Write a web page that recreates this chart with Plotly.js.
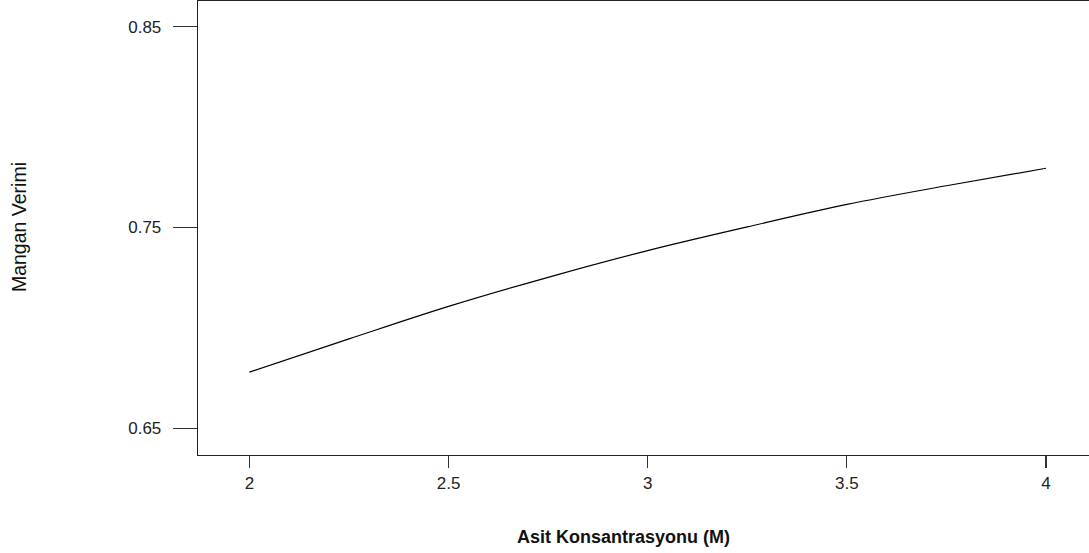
<!DOCTYPE html>
<html>
<head>
<meta charset="utf-8">
<script src="https://cdn.plot.ly/plotly-3.0.1.min.js"></script>
<style>html,body{margin:0;padding:0;background:#fff;}#chart{width:1089px;height:553px;}</style>
</head>
<body>
<div id="chart"></div>
<script>
var acidConc = [2, 2.25, 2.5, 2.75, 3, 3.25, 3.5, 3.75, 4];
var mnYield = [0.678, 0.6945, 0.7107, 0.7252, 0.7385, 0.7503, 0.7615, 0.7708, 0.7795];
var xTicks = [2, 2.5, 3, 3.5, 4];
var xTickText = ["2", "2.5", "3", "3.5", "4"];
var yTicks = [0.65, 0.75, 0.85];
var yTickText = ["0.65", "0.75", "0.85"];
var xTitle = "Asit Konsantrasyonu (M)";
var yTitle = "Mangan Verimi";

var trace = {
  x: acidConc, y: mnYield, type: "scatter", mode: "lines",
  line: {color: "#000", width: 1.2, shape: "spline"},
  hoverinfo: "none"
};
var layout = {
  width: 1089, height: 553,
  margin: {l: 198, r: 0, t: 1, b: 98},
  paper_bgcolor: "#fff", plot_bgcolor: "#fff",
  showlegend: false,
  font: {family: "Liberation Sans, Arial, sans-serif", color: "#222"},
  xaxis: {
    range: [1.871, 4.108], tickvals: xTicks, ticktext: xTickText,
    showgrid: false, zeroline: false, showline: true, mirror: true,
    linecolor: "#222", linewidth: 1.3,
    ticks: "outside", ticklen: 12, tickwidth: 1.3, tickcolor: "#333",
    tickfont: {size: 17, color: "#222"}, ticklabelstandoff: 0
  },
  yaxis: {
    range: [0.6367, 0.8628], tickvals: yTicks, ticktext: yTickText,
    showgrid: false, zeroline: false, showline: true, mirror: false,
    linecolor: "#222", linewidth: 1.3,
    ticks: "outside", ticklen: 24, tickwidth: 1.3, tickcolor: "#333",
    tickfont: {size: 17, color: "#222"}, ticklabelstandoff: 8
  },
  annotations: [
    {text: "<b>" + xTitle + "</b>", xref: "paper", yref: "paper",
     x: 0.478, y: -0.1806, xanchor: "center", yanchor: "middle",
     showarrow: false, font: {size: 18, color: "#111"}},
    {text: yTitle, xref: "paper", yref: "paper",
     x: (19 - 198) / 891, y: 0.502, xanchor: "center", yanchor: "middle",
     textangle: -90, showarrow: false, font: {size: 19.5, color: "#111"}}
  ]
};
Plotly.newPlot("chart", [trace], layout, {staticPlot: true, displayModeBar: false});
</script>
</body>
</html>
